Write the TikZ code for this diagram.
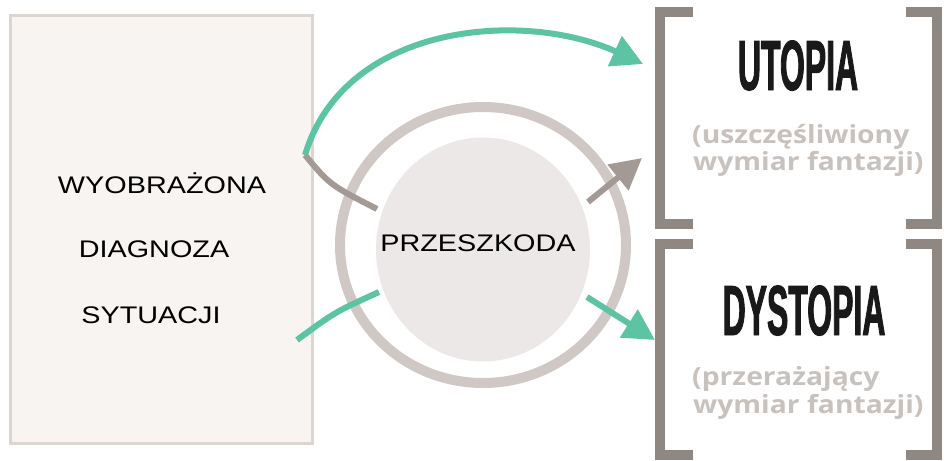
\documentclass[tikz,border=0pt]{standalone}
\usepackage{fontspec}
\setmainfont{Liberation Sans}
\newfontfamily\boxfont[FakeStretch=1.2]{Liberation Sans}
\newfontfamily\titlefont[FakeStretch=0.45,FakeBold=1.2]{Liberation Sans Bold}
\newfontfamily\subfont[FakeStretch=1.13]{Open Sans}
\usetikzlibrary{arrows.meta,shapes.geometric}
\definecolor{boxfill}{HTML}{F7F4F2}
\definecolor{boxline}{HTML}{DCD5D0}
\definecolor{ringc}{HTML}{CFC8C5}
\definecolor{diskc}{HTML}{EBE8E7}
\definecolor{greenc}{HTML}{5CC3A3}
\definecolor{grayc}{HTML}{A39A95}
\definecolor{bracketc}{HTML}{8E8782}
\definecolor{subc}{HTML}{C8C2BE}
\tikzset{
  boxtext/.style={anchor=base, font=\boxfont\fontsize{24}{28}\selectfont, inner sep=0pt},
  titletext/.style={anchor=base, font=\titlefont\fontsize{71}{80}\selectfont, inner sep=0pt, text=black!90},
  subtext/.style={anchor=base west, inner sep=0pt, text=subc, font=\subfont\bfseries\fontsize{25}{28}\selectfont},
  conn/.style={line width=6pt},
  tipped/.style={-{Triangle[length=31pt,width=32pt]}},
  bracket/.style={draw=bracketc, line width=10pt, miter limit=10},
}
\begin{document}
\begin{tikzpicture}[x=1pt,y=-1pt]
\useasboundingbox (0,0) rectangle (944,460);
% left box
\node[draw=boxline, fill=boxfill, line width=3pt, minimum width=302pt, minimum height=427pt, inner sep=0pt] (box) at (161,229.5) {};
\node[boxtext] (t1) at (162,193) {WYOBRAŻONA};
\node[boxtext] (t2) at (154,257) {DIAGNOZA};
\node[boxtext] (t3) at (151,323) {SYTUACJI};
% ring and disk
\node[ellipse, draw=ringc, line width=10pt, minimum width=286pt, minimum height=276pt, inner sep=0pt] (ring) at (483,245) {};
\node[ellipse, fill=diskc, minimum width=214pt, minimum height=224pt, inner sep=0pt] (disk) at (483,249.5) {};
\node[boxtext] (prz) at (478,251) {PRZESZKODA};
% brackets
\draw[bracket] (693,12.5) -- (659.5,12.5) -- (659.5,223.5) -- (693,223.5);
\draw[bracket] (906,12.5) -- (937,12.5) -- (937,223.5) -- (906,223.5);
\draw[bracket] (693,243.5) -- (659.5,243.5) -- (659.5,454.5) -- (693,454.5);
\draw[bracket] (906,243.5) -- (937,243.5) -- (937,454.5) -- (906,454.5);
% titles
\node[titletext] (utopia) at (798,90) {UTOPIA};
\node[subtext] (usub1) at (692,143) {(uszczęśliwiony};
\node[subtext] (usub2) at (693,170) {wymiar fantazji)};
\node[titletext] (dystopia) at (804,335) {DYSTOPIA};
\node[subtext] (dsub1) at (692,385) {(przerażający};
\node[subtext] (dsub2) at (693,413) {wymiar fantazji)};
% connector ends
\coordinate (gs) at (305,155);
\coordinate (ge) at (643,64);
\coordinate (ds) at (377,209);
\coordinate (as) at (588,202);
\coordinate (ae) at (642,158);
\coordinate (ls) at (297,340);
\coordinate (le) at (379,292);
\coordinate (bs) at (587,297);
\coordinate (be) at (655,340);
% connectors
\draw[greenc, conn, tipped] (gs) .. controls (345,22) and (525,10) .. (ge);
\draw[grayc, conn] (gs) .. controls (330,185) .. (ds);
\draw[grayc, conn, tipped] (as) -- (ae);
\draw[greenc, conn] (ls) .. controls (335,312) .. (le);
\draw[greenc, conn, tipped] (bs) -- (be);
\end{tikzpicture}
\end{document}
